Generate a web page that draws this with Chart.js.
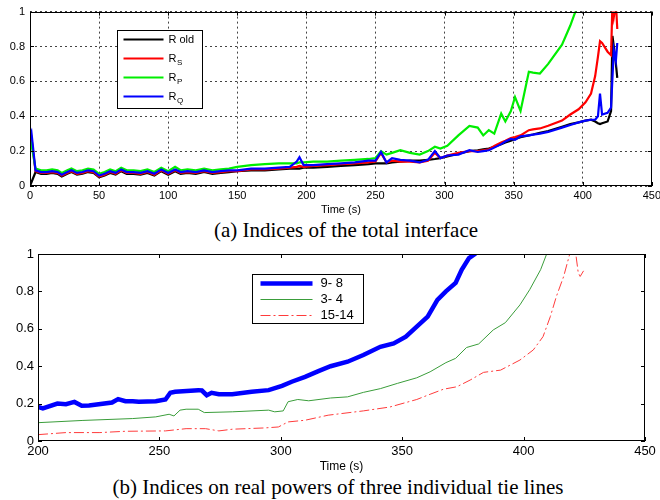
<!DOCTYPE html>
<html>
<head>
<meta charset="utf-8">
<script src="https://cdn.jsdelivr.net/npm/chart.js@4.4.1/dist/chart.umd.min.js"></script>
<style>
    body { margin: 0; background: #fff; width: 660px; height: 500px; position: relative; overflow: hidden; }
    .box { position: absolute; left: 0; width: 664px; }
    .caption {
        position: absolute; white-space: nowrap; color: #000;
        font-family: "Liberation Serif", "Times New Roman", serif;
        font-size: 21px; line-height: 22px; transform: translateX(-50%);
    }
</style>
</head>
<body>
<div class="box" style="top:0;height:217px"><canvas id="chartA"></canvas></div>
<div class="caption" style="left:346px;top:219px">(a) Indices of the total interface</div>
<div class="box" style="top:240px;height:234px"><canvas id="chartB"></canvas></div>
<div class="caption" style="left:338px;top:476px">(b) Indices on real powers of three individual tie lines</div>

<script>
// ---- (a) total interface ----
const timeA = [0, 1, 4, 8, 12, 16, 20, 23, 27, 30,
    34, 38, 42, 46, 50, 54, 58, 62, 66, 70,
    75, 80, 85, 90, 95, 100, 105, 109, 114, 120,
    126, 132, 138, 144, 150, 160, 170, 180, 188, 193,
    195, 198, 205, 215, 225, 235, 245, 250, 254, 258,
    262, 268, 275, 282, 288, 293, 297, 302, 310, 318,
    324, 328, 332, 336, 341, 344, 348, 351, 355, 361,
    364, 369, 375, 385, 391, 397, 402, 406, 409, 411,
    412.5, 414, 418, 420.5, 421.5, 422.5, 424, 425];

const rOld = [0, 0.02, 0.08, 0.07, 0.07, 0.075, 0.07, 0.055, 0.07, 0.08,
    0.065, 0.07, 0.08, 0.075, 0.05, 0.06, 0.075, 0.065, 0.085, 0.07,
    0.07, 0.065, 0.075, 0.06, 0.085, 0.065, 0.085, 0.07, 0.075, 0.07,
    0.08, 0.07, 0.075, 0.08, 0.085, 0.09, 0.09, 0.095, 0.1, 0.1,
    0.1, 0.105, 0.105, 0.11, 0.115, 0.12, 0.125, 0.13, 0.13, 0.13,
    0.135, 0.14, 0.145, 0.145, 0.15, 0.155, 0.16, 0.17, 0.185, 0.2,
    0.205, 0.21, 0.215, 0.225, 0.24, 0.25, 0.26, 0.27, 0.28, 0.29,
    0.295, 0.305, 0.315, 0.34, 0.355, 0.365, 0.375, 0.38, 0.37, 0.36,
    0.355, 0.36, 0.37, 0.43, 0.86, 0.8, 0.7, 0.62];

const rS = [0.27, 0.28, 0.085, 0.075, 0.075, 0.08, 0.075, 0.06, 0.075, 0.085,
    0.07, 0.075, 0.085, 0.08, 0.055, 0.065, 0.08, 0.07, 0.09, 0.075,
    0.075, 0.07, 0.08, 0.065, 0.09, 0.07, 0.09, 0.075, 0.08, 0.075,
    0.085, 0.075, 0.08, 0.085, 0.085, 0.095, 0.095, 0.1, 0.105, 0.11,
    0.115, 0.11, 0.115, 0.12, 0.125, 0.13, 0.135, 0.14, 0.19, 0.135,
    0.145, 0.14, 0.14, 0.135, 0.145, 0.19, 0.16, 0.175, 0.19, 0.2,
    0.2, 0.205, 0.21, 0.23, 0.25, 0.26, 0.275, 0.28, 0.29, 0.32,
    0.325, 0.33, 0.345, 0.375, 0.41, 0.44, 0.48, 0.53, 0.63, 0.74,
    0.83, 0.82, 0.77, 0.75, 1.05, 0.97, 1.05, 0.9];

const rP = [0.22, 0.24, 0.1, 0.09, 0.09, 0.095, 0.09, 0.075, 0.09, 0.1,
    0.085, 0.09, 0.1, 0.095, 0.07, 0.08, 0.095, 0.085, 0.105, 0.09,
    0.09, 0.085, 0.095, 0.08, 0.105, 0.085, 0.11, 0.09, 0.095, 0.09,
    0.1, 0.09, 0.095, 0.1, 0.11, 0.12, 0.125, 0.13, 0.13, 0.13,
    0.135, 0.135, 0.14, 0.14, 0.145, 0.15, 0.155, 0.16, 0.2, 0.18,
    0.19, 0.205, 0.19, 0.18, 0.2, 0.225, 0.215, 0.23, 0.29, 0.345,
    0.335, 0.29, 0.32, 0.3, 0.415, 0.37, 0.43, 0.51, 0.43, 0.655,
    0.65, 0.645, 0.7, 0.81, 0.92, 1.05, null, null, null, null,
    null, null, null, null, null, null, null, null];

const rQ = [0.29, 0.31, 0.09, 0.08, 0.08, 0.085, 0.08, 0.065, 0.08, 0.09,
    0.075, 0.08, 0.09, 0.085, 0.06, 0.07, 0.085, 0.075, 0.095, 0.08,
    0.08, 0.075, 0.085, 0.07, 0.095, 0.075, 0.095, 0.08, 0.085, 0.08,
    0.09, 0.08, 0.085, 0.09, 0.09, 0.1, 0.1, 0.105, 0.11, 0.14,
    0.165, 0.12, 0.12, 0.125, 0.13, 0.135, 0.145, 0.145, 0.195, 0.135,
    0.16, 0.15, 0.145, 0.135, 0.15, 0.2, 0.16, 0.175, 0.18, 0.205,
    0.195, 0.2, 0.205, 0.22, 0.24, 0.255, 0.27, 0.265, 0.285, 0.29,
    0.295, 0.3, 0.31, 0.335, 0.35, 0.365, 0.375, 0.38, 0.38, 0.4,
    0.53, 0.41, 0.42, 0.45, 0.62, 0.78, 0.72, 0.82];

const xTicksA = [0, 50, 100, 150, 200, 250, 300, 350, 400, 450];
const yTicks = [0, 0.2, 0.4, 0.6, 0.8, 1];
const legendA = ['R old', 'R', 'R', 'R'];
const legendSubA = ['', 'S', 'P', 'Q'];

// ---- (b) three tie lines ----
const time98 = [200, 202, 208, 211.5, 215, 218, 221, 230.5, 233, 236,
    239, 241.5, 248.5, 252.5, 254.5, 256.5, 266, 267.5, 269.5, 271.5,
    274.5, 280, 288, 295, 300.5, 304.5, 310, 315.5, 320.5, 327.5,
    334, 341, 346.5, 351.5, 356, 360.5, 364.5, 368, 372, 374.5,
    377.5, 380, 381];
const tie98 = [0.182, 0.174, 0.2, 0.197, 0.209, 0.188, 0.19, 0.206, 0.224, 0.213,
    0.213, 0.21, 0.213, 0.222, 0.258, 0.263, 0.272, 0.27, 0.245, 0.258,
    0.25, 0.25, 0.263, 0.272, 0.295, 0.317, 0.343, 0.374, 0.4, 0.424,
    0.46, 0.504, 0.522, 0.558, 0.612, 0.665, 0.755, 0.8, 0.845, 0.916,
    0.978, 1.0, 1.02];

const time34 = [200, 218.5, 239, 248.5, 254, 256, 258.5, 261, 266, 268.5,
    280, 295, 297.5, 301, 303, 307, 311.5, 320.5, 327.5, 334,
    341, 348, 356, 361.5, 368, 372, 376.5, 381.5, 387.5, 392.5,
    398.5, 402.5, 407, 409.5, 410.5];
const tie34 = [0.098, 0.11, 0.12, 0.129, 0.143, 0.134, 0.165, 0.17, 0.17, 0.152,
    0.156, 0.165, 0.156, 0.161, 0.21, 0.222, 0.215, 0.23, 0.236, 0.26,
    0.28, 0.308, 0.338, 0.37, 0.419, 0.442, 0.5, 0.519, 0.594, 0.633,
    0.728, 0.809, 0.916, 1.0, 1.03];

const time1514 = [200, 211.5, 225.5, 236, 252.5, 261, 269, 274.5, 280, 293.5,
    299, 303, 310, 319.5, 334, 345, 356, 361.5, 367, 372.5,
    378, 383.5, 390.5, 398.5, 404, 408, 411, 413.5, 416.5, 419,
    420.5, 421.5, 422.5, 423.3, 424.7];
const tie1514 = [0.034, 0.045, 0.045, 0.052, 0.054, 0.066, 0.066, 0.054, 0.063, 0.07,
    0.075, 0.102, 0.111, 0.138, 0.161, 0.182, 0.222, 0.25, 0.277, 0.29,
    0.326, 0.367, 0.379, 0.433, 0.487, 0.558, 0.665, 0.773, 0.88, 1.0,
    1.03, 1.0, 0.9, 0.88, 0.91];

const xTicksB = [200, 250, 300, 350, 400, 450];
const legendB = ['9- 8', '3- 4', '15-14'];

Chart.defaults.font.family = '"Liberation Sans", Arial, sans-serif';
Chart.defaults.color = '#000';

function series(xs, ys) {
    return xs.map((t, i) => ({ x: t, y: ys[i] }));
}

// Axis builder: fixed sizes so the plot box lands where the figure has it
function axis(pos, min, max, tickVals, o) {
    return {
        type: 'linear', position: pos, min: min, max: max,
        afterBuildTicks: s => { s.ticks = tickVals.map(v => ({ value: v })); },
        afterFit: s => { if (pos === 'left') s.width = o.size; else s.height = o.size; },
        grid: { display: o.grid, color: '#444', lineWidth: 1, drawTicks: false },
        border: { display: false, dash: [2, 3] },
        ticks: {
            padding: o.pad, autoSkip: false, maxRotation: 0, color: '#000',
            font: { size: o.font },
            callback: v => String(v)
        },
        title: o.title
            ? { display: true, text: o.title, color: '#000', font: { size: o.titleFont }, padding: 0 }
            : { display: false }
    };
}

// Box round the plot with inward tick marks (matlab look)
const frameTicks = {
    id: 'frameTicks',
    afterDatasetsDraw(chart) {
        const { ctx, chartArea: a, scales } = chart;
        const len = 4;
        ctx.save();
        ctx.strokeStyle = '#000';
        ctx.lineWidth = 1;
        ctx.beginPath();
        scales.x.ticks.forEach(t => {
            const x = Math.round(scales.x.getPixelForValue(t.value)) + 0.5;
            ctx.moveTo(x, a.bottom); ctx.lineTo(x, a.bottom - len);
            ctx.moveTo(x, a.top); ctx.lineTo(x, a.top + len);
        });
        scales.y.ticks.forEach(t => {
            const y = Math.round(scales.y.getPixelForValue(t.value)) + 0.5;
            ctx.moveTo(a.left, y); ctx.lineTo(a.left + len, y);
            ctx.moveTo(a.right, y); ctx.lineTo(a.right - len, y);
        });
        ctx.stroke();
        ctx.strokeRect(Math.round(a.left) + 0.5, Math.round(a.top) + 0.5,
            Math.round(a.right - a.left) - 1, Math.round(a.bottom - a.top) - 1);
        ctx.restore();
    }
};

// Legend box drawn inside the plot (needs subscripts, so custom)
function boxLegend(id, items, c) {
    return {
        id: id,
        afterDraw(chart) {
            const { ctx, chartArea: a } = chart;
            const x0 = Math.round(a.left + c.dx) + 0.5, y0 = Math.round(a.top + c.dy) + 0.5;
            ctx.save();
            ctx.fillStyle = '#fff';
            ctx.fillRect(x0, y0, c.w, c.h);
            ctx.strokeStyle = '#000';
            ctx.lineWidth = 1;
            ctx.strokeRect(x0, y0, c.w, c.h);
            items.forEach((it, i) => {
                const y = y0 + c.rowTop + i * c.rowGap;
                ctx.beginPath();
                ctx.setLineDash(it.dash || []);
                ctx.strokeStyle = it.color;
                ctx.lineWidth = it.width;
                ctx.moveTo(x0 + c.lineX0, y);
                ctx.lineTo(x0 + c.lineX1, y);
                ctx.stroke();
                ctx.setLineDash([]);
                ctx.fillStyle = '#000';
                ctx.font = c.font;
                ctx.textAlign = 'left';
                ctx.textBaseline = 'middle';
                ctx.fillText(it.text, x0 + c.textX, y);
                if (it.sub) {
                    const w = ctx.measureText(it.text).width;
                    ctx.font = c.subFont;
                    ctx.fillText(it.sub, x0 + c.textX + w + 0.5, y + 4);
                }
            });
            ctx.restore();
        }
    };
}

const colorsA = ['#000000', '#ff0000', '#00ee00', '#0000ff'];
const seriesA = [rOld, rS, rP, rQ];

new Chart(document.getElementById('chartA'), {
    type: 'line',
    data: {
        datasets: seriesA.map((vals, i) => ({
            label: legendA[i] + legendSubA[i],
            data: series(timeA, vals),
            borderColor: colorsA[i],
            borderWidth: 2.2,
            pointRadius: 0,
            tension: 0,
            fill: false,
            clip: 0,
            order: 3 - i
        }))
    },
    options: {
        responsive: true,
        maintainAspectRatio: false,
        animation: false,
        layout: { padding: { top: 11, right: 11, left: 0, bottom: 0 } },
        plugins: { legend: { display: false }, tooltip: { enabled: false } },
        scales: {
            x: axis('bottom', 0, 450, xTicksA, { size: 31, grid: true, pad: 3, font: 11, title: 'Time (s)', titleFont: 11 }),
            y: axis('left', 0, 1, yTicks, { size: 30, grid: true, pad: 5, font: 11 })
        }
    },
    plugins: [frameTicks, boxLegend('legendA',
        legendA.map((t, i) => ({ text: t, sub: legendSubA[i], color: colorsA[i], width: 2 })),
        { dx: 87, dy: 18, w: 85, h: 78, rowTop: 9, rowGap: 19, lineX0: 6, lineX1: 46, textX: 51,
          font: '11px "Liberation Sans", Arial, sans-serif', subFont: '8px "Liberation Sans", Arial, sans-serif' })]
});

const stylesB = [
    { color: '#0000ff', width: 4.5, dash: [] },
    { color: '#3a9d3a', width: 1, dash: [] },
    { color: '#ff3b3b', width: 1, dash: [10, 3, 2, 3] }
];
const seriesB = [series(time98, tie98), series(time34, tie34), series(time1514, tie1514)];

new Chart(document.getElementById('chartB'), {
    type: 'line',
    data: {
        datasets: seriesB.map((pts, i) => ({
            label: legendB[i],
            data: pts,
            borderColor: stylesB[i].color,
            borderWidth: stylesB[i].width,
            borderDash: stylesB[i].dash,
            pointRadius: 0,
            tension: 0,
            fill: false,
            clip: 0
        }))
    },
    options: {
        responsive: true,
        maintainAspectRatio: false,
        animation: false,
        layout: { padding: { top: 14, right: 19, left: 0, bottom: 0 } },
        plugins: { legend: { display: false }, tooltip: { enabled: false } },
        scales: {
            x: axis('bottom', 200, 450, xTicksB, { size: 33, grid: false, pad: 3, font: 13, title: 'Time (s)', titleFont: 12 }),
            y: axis('left', 0, 1, yTicks, { size: 38, grid: false, pad: 4, font: 13 })
        }
    },
    plugins: [frameTicks, boxLegend('legendB',
        legendB.map((t, i) => ({ text: t, color: stylesB[i].color, width: stylesB[i].width, dash: stylesB[i].dash })),
        { dx: 214, dy: 20, w: 111, h: 49, rowTop: 9, rowGap: 16, lineX0: 8, lineX1: 60, textX: 68,
          font: '13px "Liberation Sans", Arial, sans-serif', subFont: '9px "Liberation Sans", Arial, sans-serif' })]
});
</script>
</body>
</html>
